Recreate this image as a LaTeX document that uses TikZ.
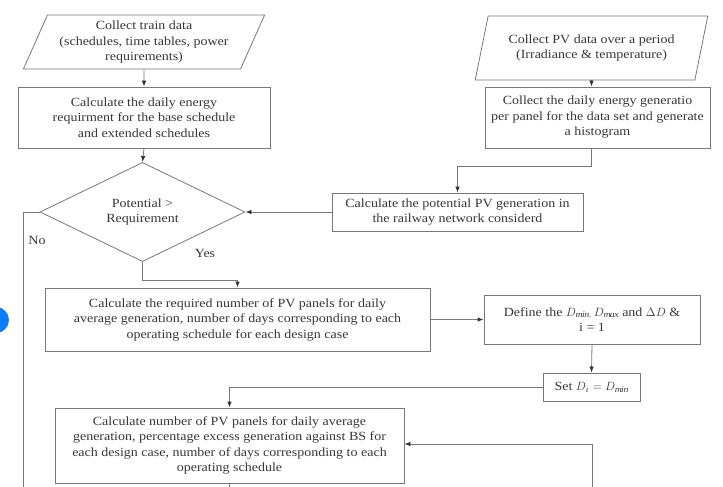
\documentclass[tikz,border=0pt]{standalone}
\usepackage{fontspec}
\setmainfont{Liberation Serif}[FakeStretch=1.12]
\usetikzlibrary{shapes.geometric,arrows.meta,calc}
\definecolor{linegray}{RGB}{120,120,120}
\definecolor{textgray}{RGB}{55,55,55}
\definecolor{dotblue}{RGB}{10,125,255}
\begin{document}
\begin{tikzpicture}[x=1pt,y=-1pt,
  every node/.style={text=textgray,font=\fontsize{12.5}{15.5}\selectfont,align=center,inner sep=2pt},
  procbox/.style={draw=linegray,line width=0.8pt,rectangle},
  iobox/.style={draw=linegray,line width=0.8pt,trapezium,trapezium stretches=true},
  decbox/.style={draw=linegray,line width=0.8pt,diamond},
  conn/.style={draw=linegray,line width=0.8pt},
  arr/.style={conn,-{Latex[length=6pt,width=4.5pt]},arrows={[color=black!80]}},
  lbl/.style={font=\fontsize{12.5}{14}\selectfont}
]
\useasboundingbox (0,0) rectangle (723,487);
\fill[dotblue] (-4,320) circle (13);

\node[iobox,trapezium left angle=65,trapezium right angle=115,minimum width=242pt,minimum height=54pt] (p1) at (144,42)
  {Collect train data\\(schedules, time tables, power\\requirements)};
\node[procbox,minimum width=252pt,minimum height=61pt] (b2) at (144,117.5)
  {Calculate the daily energy\\requirment for the base schedule\\and extended schedules};
\node[iobox,trapezium left angle=71,trapezium right angle=109,minimum width=233pt,minimum height=64pt] (p2) at (591.5,48)
  {Collect PV data over a period\\(Irradiance \& temperature)};
\node[procbox,minimum width=225pt,minimum height=61pt] (g) at (597.5,117.5)
  {Collect the daily energy generatio\\per panel for the data set and generate\\a histogram};
\node[procbox,minimum width=251pt,minimum height=38pt] (pot) at (457.5,212)
  {Calculate the potential PV generation in\\the railway network considerd};
\node[decbox,minimum width=205pt,minimum height=66pt,inner sep=0pt] (dec) at (142.5,212)
  {Potential >\\Requirement};
\node[procbox,minimum width=385pt,minimum height=63pt] (b3) at (237.5,319.5)
  {Calculate the required number of PV panels for daily\\average generation, number of days corresponding to each\\operating schedule for each design case};
\node[procbox,minimum width=216pt,minimum height=49pt] (b4) at (592,319.5)
  {Define the $D_{\mathit{min},}\,D_{\mathit{max}}$ and $\Delta D$ \&\\i = 1};
\node[procbox,minimum width=97pt,minimum height=28pt] (set) at (591.5,387)
  {Set $D_i = D_{\mathit{min}}$};
\node[procbox,minimum width=349pt,minimum height=75pt] (b5) at (229.5,445.5)
  {Calculate number of PV panels for daily average\\generation, percentage excess generation against BS for\\each design case, number of days corresponding to each\\operating schedule};

\coordinate (noend) at (23,487);
\coordinate (b5end) at (229.5,487);
\coordinate (loopend) at (592,487);

\draw[arr] (p1.south) -- (b2.north);
\draw[arr] (b2.south) -- (dec.north);
\draw[arr] (p2.south) -- (p2.south |- g.north);
\draw[arr] (p2.south |- g.south) -- ++(0,18) -| (pot.north);
\draw[arr] (pot.west) -- (dec.east);
\draw[arr] (dec.south) -- ++(0,18) -| (b3.north);
\node[lbl] (yes) at (205,253) {Yes};
\draw[conn] (dec.west) -| (noend);
\node[lbl] (no) at (37,240) {No};
\draw[arr] (b3.east) -- (b4.west);
\draw[arr] (b4.south) -- (set.north);
\draw[arr] (set.west) -| (b5.north);
\draw[conn] (b5.south) -- (b5end);
\draw[arr] (loopend) |- ($(b5.east)+(0,-1.5)$);
\end{tikzpicture}
\end{document}
